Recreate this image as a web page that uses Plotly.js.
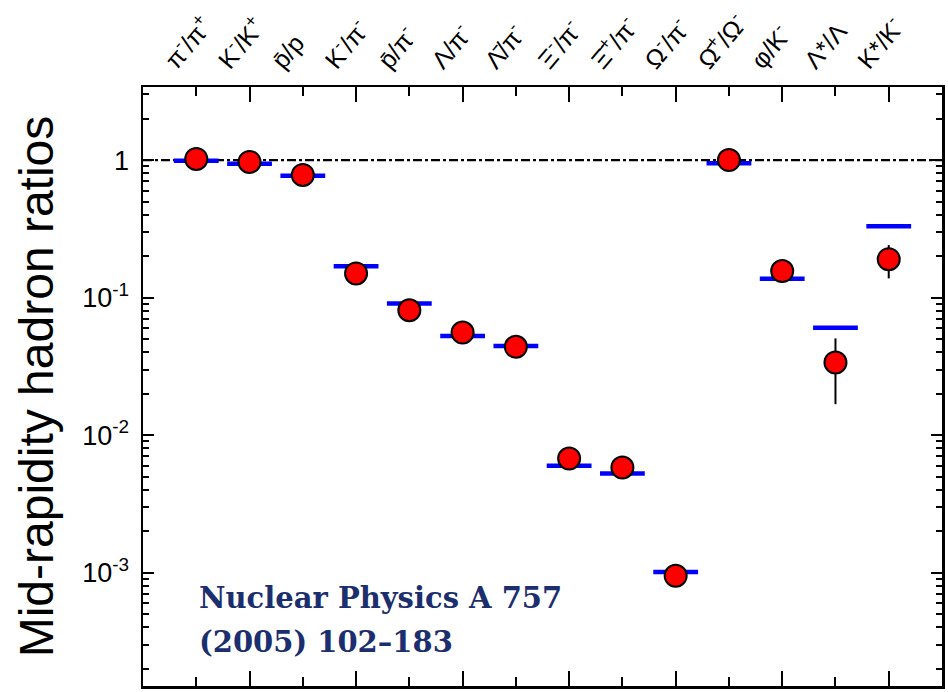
<!DOCTYPE html>
<html><head><meta charset="utf-8">
<script src="https://cdn.plot.ly/plotly-3.0.1.min.js"></script>
<style>html,body{margin:0;padding:0;background:#fff}#chart{width:948px;height:692px}</style>
</head><body><div id="chart"></div>
<script>
// categories (top tick labels)
const categories = [
  'π<sup>-</sup>/π<sup>+</sup>', 'K<sup>-</sup>/K<sup>+</sup>', 'p\u0304/p', 'K<sup>-</sup>/π<sup>-</sup>',
  'p\u0304/π<sup>-</sup>', 'Λ/π<sup>-</sup>', 'Λ\u0304/π<sup>-</sup>', 'Ξ<sup>-</sup>/π<sup>-</sup>',
  'Ξ\u0304<sup>+</sup>/π<sup>-</sup>', 'Ω<sup>-</sup>/π<sup>-</sup>', 'Ω\u0304<sup>+</sup>/Ω<sup>-</sup>',
  'φ/K<sup>-</sup>', 'Λ*/Λ', 'K*/K<sup>-</sup>'
];
const xpos = [1,2,3,4,5,6,7,8,9,10,11,12,13,14];
// measured ratios (red points)
const dataRatio = [1.02, 0.97, 0.78, 0.150, 0.081, 0.0558, 0.0439, 0.00676, 0.00582, 0.00095, 1.0, 0.156, 0.0338, 0.19];
const errPlus  = [0,0,0,0,0,0,0,0,0,0,0,0, 0.0167, 0.051];
const errMinus = [0,0,0,0,0,0,0,0,0,0,0,0, 0.0170, 0.052];
// model values (blue bars)
const modelRatio = [0.99, 0.94, 0.77, 0.169, 0.0907, 0.0525, 0.0444, 0.0060, 0.00527, 0.00101, 0.95, 0.137, 0.0604, 0.33];
// y tick labels
const yTickVals = [0.001, 0.01, 0.1, 1];
const yTickText = ['10<sup>-3</sup>', '10<sup>-2</sup>', '10<sup>-1</sup>', '1'];
// citation text lines
const citeLines = ['Nuclear Physics A 757', '(2005) 102–183'];

const minorVals = [];
[-4,-3,-2,-1,0].forEach(d => { for (let k=2;k<=9;k++) minorVals.push(k*Math.pow(10,d)); });

const traces = [
  {x: xpos, y: modelRatio, type:'scatter', mode:'markers', xaxis:'x', yaxis:'y',
   marker:{symbol:'line-ew', size:32, line:{color:'#0000ff', width:4.5}}, hoverinfo:'skip', showlegend:false},
  {x: xpos, y: dataRatio, type:'scatter', mode:'markers', xaxis:'x', yaxis:'y',
   error_y:{type:'data', symmetric:false, array:errPlus, arrayminus:errMinus, color:'#000', thickness:2, width:0},
   marker:{symbol:'circle', size:22, color:'#ff0000', line:{color:'#000', width:2}}, showlegend:false},
  {x: [xpos[0]], y: [dataRatio[0]], type:'scatter', mode:'markers', xaxis:'x2', yaxis:'y',
   marker:{opacity:0}, hoverinfo:'skip', showlegend:false}
];

const citeY = [0.147, 0.074];
const layout = {
  width:948, height:692,
  margin:{l:143, r:6, t:87, b:6},
  paper_bgcolor:'#fff', plot_bgcolor:'#fff',
  showlegend:false,
  xaxis:{range:[0,15], showgrid:false, zeroline:false, showline:true, linecolor:'#000', linewidth:2.5,
         mirror:'ticks', ticks:'inside', tickvals:[0,2,4,6,8,10,12,14], ticklen:15, tickwidth:2, tickcolor:'#000',
         showticklabels:false,
         minor:{tickvals:[1,3,5,7,9,11,13,15], ticks:'inside', ticklen:9, tickwidth:2, tickcolor:'#000'}},
  xaxis2:{range:[0,15], overlaying:'x', side:'top', showgrid:false, zeroline:false, showline:false,
          tickmode:'array', tickvals:xpos, ticktext:categories, ticks:'', tickangle:-50,
          ticklabelshift:-29, ticklabelstandoff:6,
          tickfont:{family:'Liberation Sans, Arial, sans-serif', size:25, color:'#000'}},
  yaxis:{type:'log', range:[Math.log10(1.5e-4), Math.log10(3.4)], showgrid:false, zeroline:false,
         showline:true, linecolor:'#000', linewidth:2.5, mirror:'ticks',
         ticks:'inside', tickmode:'array', tickvals:yTickVals, ticktext:yTickText, ticklen:11, tickwidth:2, tickcolor:'#000',
         ticklabelstandoff:6,
         tickfont:{family:'Liberation Sans, Arial, sans-serif', size:27, color:'#000'},
         minor:{tickvals:minorVals, ticks:'inside', ticklen:6, tickwidth:2, tickcolor:'#000'},
         title:{text:'Mid-rapidity hadron ratios', standoff:14,
                font:{family:'Liberation Sans, Arial, sans-serif', size:48, color:'#000'}}},
  shapes:[{type:'line', xref:'x', yref:'y', x0:0, x1:15, y0:1, y1:1, layer:'below',
           line:{color:'#000', width:2.2, dash:'dashdot'}}],
  annotations: citeLines.map((t, i) => ({xref:'paper', yref:'paper', x:0.067, y:citeY[i], xanchor:'left', yanchor:'middle',
    align:'left', showarrow:false, text:'<b>' + t + '</b>',
    font:{family:'DejaVu Serif, Liberation Serif, serif', size:29, color:'#1b2f6e'}}))
};
Plotly.newPlot('chart', traces, layout, {displayModeBar:false, staticPlot:true});
</script></body></html>
